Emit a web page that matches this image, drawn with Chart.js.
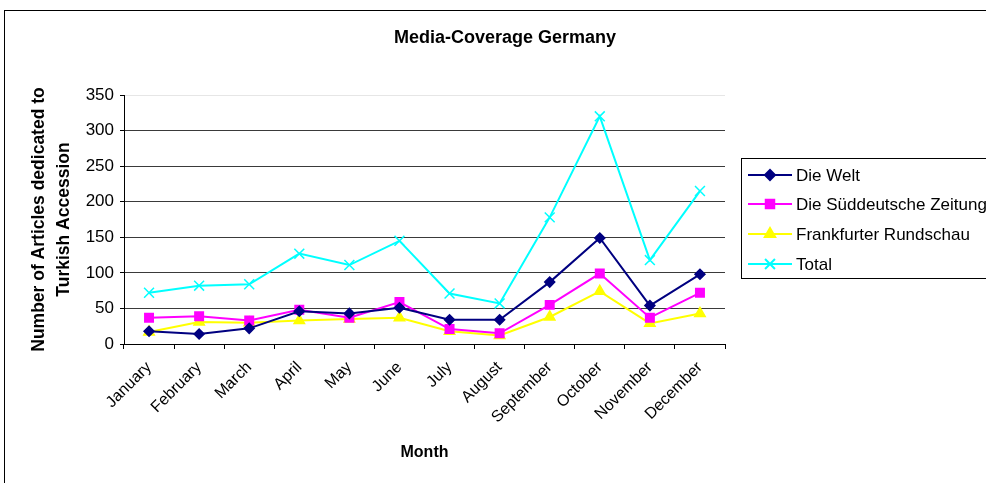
<!DOCTYPE html>
<html>
<head>
<meta charset="utf-8">
<script src="https://cdn.jsdelivr.net/npm/chart.js@4/dist/chart.umd.min.js"></script>
<style>
  html, body { margin: 0; padding: 0; overflow: hidden; background: #fff; }
  #wrap { width: 1010px; height: 483px; }
</style>
</head>
<body>
<div id="wrap"><canvas id="chart" width="1010" height="483"></canvas></div>
<script>
// data
const months = ['January', 'February', 'March', 'April', 'May', 'June', 'July',
  'August', 'September', 'October', 'November', 'December'];
const dieWelt = [18, 14, 22, 46, 43, 51, 34, 34, 87, 149, 54, 98];
const sueddeutsche = [37, 39, 33, 48, 37, 59, 21, 15, 55, 99, 37, 72];
const frankfurter = [17, 31, 30, 33, 35, 37, 18, 12, 38, 74, 29, 43];
const total = [72, 82, 84, 127, 111, 145, 71, 57, 178, 320, 118, 215];
const yTicks = [0, 50, 100, 150, 200, 250, 300, 350];

const FONT = '"Liberation Sans", Arial, sans-serif';

// === fond + cadre + légende ===
const frame = {
  id: 'frame',
  beforeDraw(chart) {
    const ctx = chart.ctx;
    ctx.save();
    ctx.fillStyle = '#fff';
    ctx.fillRect(0, 0, chart.width, chart.height);
    ctx.restore();
  },
  afterDraw(chart) {
    const ctx = chart.ctx;
    ctx.save();
    ctx.strokeStyle = '#000';
    ctx.lineWidth = 1;
    ctx.strokeRect(4.5, 10.5, 1000, 500);

    // legend box
    ctx.strokeRect(741.5, 158.5, 260, 120);
    const rows = [175, 204, 234, 264];
    ctx.font = '17px ' + FONT;
    ctx.textBaseline = 'middle';
    chart.data.datasets.forEach((ds, i) => {
      const y = rows[i];
      ctx.strokeStyle = ds.borderColor;
      ctx.lineWidth = 2;
      ctx.beginPath();
      ctx.moveTo(748, y);
      ctx.lineTo(792, y);
      ctx.stroke();
      ctx.fillStyle = ds.pointBackgroundColor;
      ctx.strokeStyle = ds.pointBorderColor;
      Chart.helpers.drawPoint(ctx, {
        pointStyle: ds.pointStyle, radius: ds.pointRadius, rotation: 0, borderWidth: ds.pointBorderWidth
      }, 770, y);
      ctx.fillStyle = '#000';
      ctx.fillText(ds.label, 796, y + 1);
    });
    ctx.restore();
  }
};

function serie(label, data, color, style, radius) {
  return {
    label, data,
    borderColor: color,
    backgroundColor: color,
    pointBackgroundColor: color,
    pointBorderColor: color,
    pointBorderWidth: 1.5,
    pointStyle: style,
    pointRadius: radius,
    borderWidth: 2,
    tension: 0,
    fill: false
  };
}

new Chart(document.getElementById('chart'), {
  type: 'line',
  data: {
    labels: months,
    datasets: [
      serie('Die Welt', dieWelt, '#000080', 'rectRot', 5),
      serie('Die Süddeutsche Zeitung', sueddeutsche, '#ff00ff', 'rect', 6),
      serie('Frankfurter Rundschau', frankfurter, '#ffff00', 'triangle', 6),
      serie('Total', total, '#00ffff', 'crossRot', 7)
    ]
  },
  options: {
    responsive: false,
    animation: false,
    devicePixelRatio: 1,
    layout: { padding: 0 },
    plugins: {
      legend: { display: false },
      tooltip: { enabled: false },
      title: {
        display: true,
        text: 'Media-Coverage Germany',
        color: '#000',
        font: { family: FONT, size: 18, weight: 'bold', lineHeight: 1.2 },
        padding: { top: 27, bottom: 46.4 }
      }
    },
    scales: {
      x: {
        offset: true,
        grid: { offset: true, drawOnChartArea: false, tickLength: 5, color: '#000' },
        border: { color: '#000', width: 1 },
        ticks: {
          autoSkip: false, minRotation: 45, maxRotation: 45, padding: 9,
          color: '#000', font: { family: FONT, size: 16 }
        },
        title: {
          display: true, text: 'Month', color: '#000',
          font: { family: FONT, size: 16, weight: 'bold', lineHeight: 1.2 },
          padding: { top: 0, bottom: 21 }
        },
        afterFit(s) { s.height = 139; }
      },
      y: {
        min: 0, max: 350,
        afterBuildTicks(s) { s.ticks = yTicks.map(v => ({ value: v })); },
        grid: {
          color: c => c.tick && c.tick.value === 350 ? '#e6e6e6' : '#3a3a3a',
          tickColor: '#000',
          tickLength: 4
        },
        border: { color: '#000', width: 1 },
        ticks: { padding: 6, color: '#000', font: { family: FONT, size: 17 } },
        title: {
          display: true,
          text: ['Number of Articles dedicated to', 'Turkish Accession'],
          color: '#000',
          font: { family: FONT, size: 17.5, weight: 'bold', lineHeight: 1.4 },
          padding: { top: 27, bottom: 0 }
        },
        afterFit(s) { s.width = 124; }
      },
      pad: {
        position: 'right',
        grid: { display: false },
        ticks: { display: false },
        border: { display: false },
        afterFit(s) { s.width = 285; }
      }
    }
  },
  plugins: [frame]
});
</script>
</body>
</html>
